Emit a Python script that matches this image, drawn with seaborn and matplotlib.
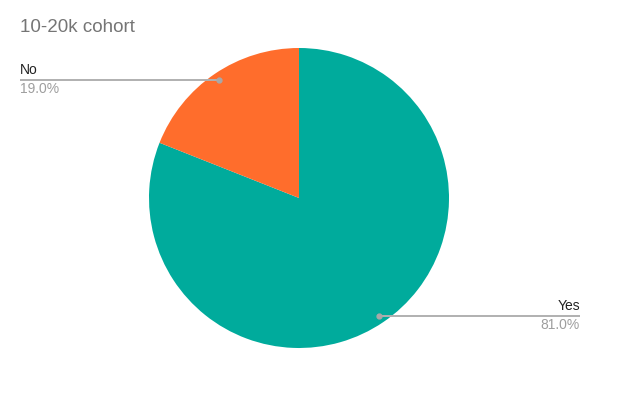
import matplotlib
matplotlib.use("Agg")
import matplotlib.pyplot as plt
import seaborn as sns
import numpy as np

# Survey responses for the 10-20k cohort
categories = ["Yes", "No"]
shares = [81.0, 19.0]
slice_colors = ["#00AB9C", "#FF6D2C"]
title_text = "10-20k cohort"

sns.set_theme(style="white")
plt.rcParams["font.family"] = ["Liberation Sans", "DejaVu Sans"]

W, H = 628, 397
fig = plt.figure(figsize=(W / 100, H / 100), dpi=100)
ax = fig.add_axes([0, 0, 1, 1])

cx, cy, r = 299, H - 198, 150
wedges, _ = ax.pie(shares, colors=slice_colors, startangle=90,
                   counterclock=False, center=(cx, cy), radius=r,
                   wedgeprops=dict(linewidth=0))
ax.set_xlim(0, W)
ax.set_ylim(0, H)
ax.set_aspect("equal")
ax.axis("off")

fig.text(20 / W, 1 - 28 / H, title_text, fontsize=13.5, color="#757575",
         ha="left", va="center")

# Leader lines: dot inside each slice, horizontal rule out to the label
label_ends = {"Yes": (580, "right"), "No": (20, "left")}
for w, name, val in zip(wedges, categories, shares):
    mid = np.deg2rad((w.theta1 + w.theta2) / 2)
    px = cx + 0.95 * r * np.cos(mid)
    py = cy + 0.95 * r * np.sin(mid)
    end_x, align = label_ends[name]
    ax.plot([px, end_x], [py, py], color="#b0b0b0", lw=1.4,
            solid_capstyle="butt", zorder=3)
    ax.plot([px], [py], "o", color="#a8a8a8", ms=3.5, zorder=4)
    ax.text(end_x, py + 3, name, fontsize=10, color="#222222",
            ha=align, va="bottom")
    ax.text(end_x, py - 2, f"{val:.1f}%", fontsize=10, color="#9e9e9e",
            ha=align, va="top")

fig.savefig("out.png", dpi=100)
